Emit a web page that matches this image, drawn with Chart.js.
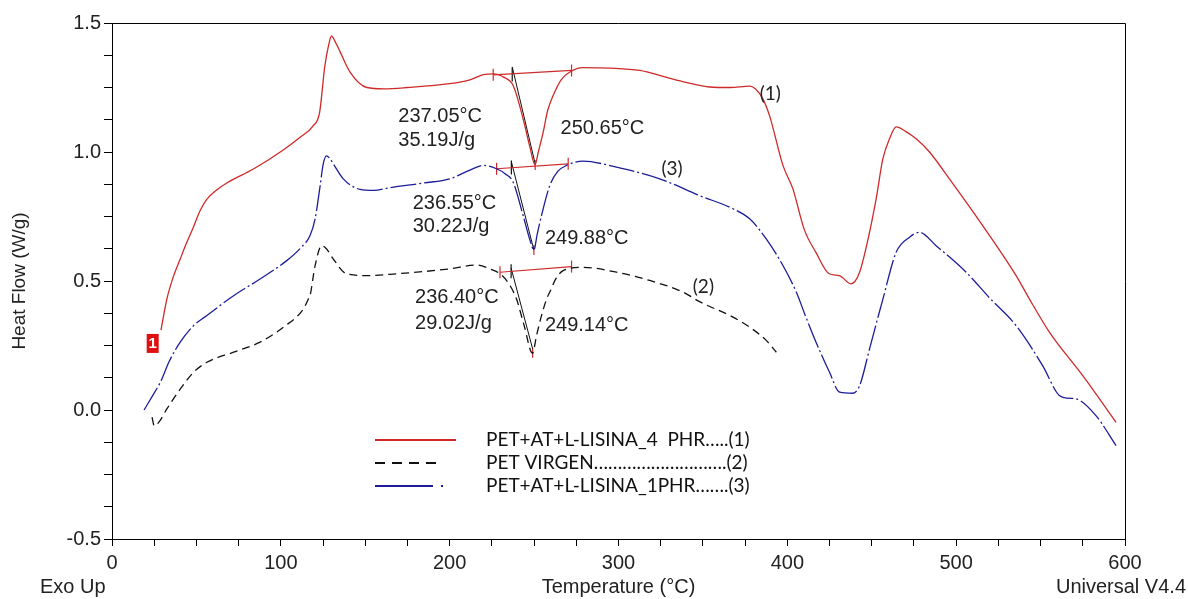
<!DOCTYPE html>
<html>
<head>
<meta charset="utf-8">
<script src="https://cdn.jsdelivr.net/npm/chart.js@4.4.1/dist/chart.umd.min.js"></script>
<style>
  html, body { margin: 0; padding: 0; background: #fff; }
  #wrap { width: 1188px; height: 599px; }
</style>
</head>
<body>
<div id="wrap"><canvas id="dscChart" width="1188" height="599"></canvas></div>
<script>
// (1) PET+AT+L-LISINA_4 PHR
const tempLisina4 = [29, 32.5, 36, 40.4, 44, 48, 52, 56, 62, 68, 84, 101, 112, 119, 123, 126, 128.5, 130, 132, 135, 141, 151, 161, 175, 200, 212, 220, 226, 232, 237.6, 243.5, 247.5, 250.6, 252.5, 255.4, 258, 261.3, 266, 271.2, 279, 295, 312.6, 328, 340, 354, 366, 377.7, 381, 385.5, 389.5, 397.4, 403.3, 410, 417, 424.8, 430.8, 437.7, 442.8, 448.7, 452.6, 456.6, 460.5, 464.5, 470, 476.3, 484.2, 496, 515.7, 535.5, 543.4, 555.3, 575, 594.7];
const flowLisina4 = [0.31, 0.43, 0.51, 0.585, 0.645, 0.705, 0.77, 0.815, 0.853, 0.88, 0.935, 1.006, 1.06, 1.10, 1.155, 1.33, 1.42, 1.45, 1.43, 1.39, 1.31, 1.25, 1.245, 1.25, 1.265, 1.28, 1.30, 1.303, 1.29, 1.258, 1.129, 1.02, 0.95, 1.0, 1.077, 1.16, 1.219, 1.28, 1.31, 1.327, 1.325, 1.316, 1.29, 1.27, 1.252, 1.25, 1.255, 1.245, 1.206, 1.14, 0.948, 0.857, 0.70, 0.61, 0.528, 0.521, 0.489, 0.534, 0.689, 0.818, 0.974, 1.051, 1.097, 1.08, 1.051, 1.0, 0.896, 0.715, 0.521, 0.43, 0.301, 0.133, -0.048];

// (2) PET VIRGEN
const tempVirgen = [23.7, 25, 28, 32.5, 40.4, 48.3, 56.2, 72, 87.7, 101.5, 113.4, 116.3, 117.3, 120.3, 124.2, 127, 131, 138.9, 150.7, 168.5, 200, 216, 223.8, 229.8, 235, 239.6, 244, 249.1, 251.5, 254.4, 257.4, 259.3, 263, 267.2, 279, 298.8, 318.5, 338.2, 348, 367.8, 377.7, 387.5, 393.5];
const flowVirgen = [-0.028, -0.061, -0.045, 0.004, 0.081, 0.146, 0.185, 0.224, 0.263, 0.321, 0.392, 0.43, 0.443, 0.56, 0.637, 0.625, 0.586, 0.528, 0.521, 0.528, 0.547, 0.562, 0.547, 0.528, 0.49, 0.43, 0.33, 0.22, 0.29, 0.366, 0.43, 0.457, 0.51, 0.54, 0.553, 0.534, 0.502, 0.457, 0.42, 0.36, 0.321, 0.27, 0.224];

// (3) PET+AT+L-LISINA_1PHR
const tempLisina1 = [19, 24, 28.6, 34, 40.4, 48.3, 56.2, 63, 72, 87.7, 103.5, 112, 117.3, 120.3, 123.3, 125, 127, 129, 131, 137, 146.9, 155, 165, 185, 200, 212, 220, 227.8, 233, 237.6, 243.5, 247.5, 249.9, 251.8, 254.4, 259.3, 264, 269.2, 279, 298.8, 324.4, 348, 367.8, 377.7, 387.5, 397.4, 405.3, 411, 417, 425, 431, 438.8, 442.8, 448.7, 456.6, 464.5, 472.4, 478.3, 488.1, 505.9, 519.7, 535.5, 551.2, 561.1, 566, 571, 582.8, 594.7];
const flowLisina1 = [0.0, 0.055, 0.107, 0.19, 0.263, 0.327, 0.366, 0.40, 0.443, 0.508, 0.579, 0.63, 0.676, 0.741, 0.87, 0.95, 0.985, 0.975, 0.955, 0.896, 0.855, 0.851, 0.862, 0.88, 0.896, 0.93, 0.948, 0.935, 0.915, 0.883, 0.754, 0.66, 0.62, 0.68, 0.754, 0.87, 0.925, 0.948, 0.965, 0.941, 0.896, 0.831, 0.78, 0.741, 0.663, 0.56, 0.457, 0.36, 0.263, 0.146, 0.069, 0.065, 0.094, 0.237, 0.43, 0.612, 0.67, 0.689, 0.637, 0.534, 0.435, 0.327, 0.172, 0.056, 0.046, 0.043, -0.022, -0.138];

// melting analysis: baselines and onset tangents (1), (3), (2)
const baseX = [[225.8, 272.2], [227.8, 270.2], [229.8, 272.2]];
const baseY = [[1.299, 1.316], [0.935, 0.954], [0.534, 0.556]];
const tanX = [[237.05, 250.65], [236.55, 249.88], [236.40, 249.14]];
const tanY = [[1.33, 0.954], [0.962, 0.62], [0.55, 0.237]];
const onsetY = [1.30, 0.94, 0.538];
const peakY = [0.95, 0.62, 0.222];

const annoText = ['237.05°C', '35.19J/g', '250.65°C', '236.55°C', '30.22J/g', '249.88°C', '236.40°C', '29.02J/g', '249.14°C'];
const annoX = [169.6, 169.6, 265.7, 178.1, 178.1, 256.4, 179.5, 179.5, 256.4];
const annoY = [1.137, 1.045, 1.09, 0.799, 0.71, 0.663, 0.438, 0.334, 0.327];

const curveTags = ['(1)', '(3)', '(2)'];
const tagX = [383.6, 325.4, 344];
const tagY = [1.226, 0.935, 0.477];

const legendLabels = ['PET+AT+L-LISINA_4  PHR…..(1)', 'PET VIRGEN……………………….(2)', 'PET+AT+L-LISINA_1PHR…….(3)'];

const RED = '#cf2a2a';
const BLUE = '#1d1d9a';
const BLACK = '#111111';
const AXIS_FONT = '"Liberation Sans", Arial, sans-serif';

function pts(xs, ys) { return xs.map((v, i) => ({ x: v, y: ys[i] })); }

const datasets = [
    { label: legendLabels[0], data: pts(tempLisina4, flowLisina4), borderColor: RED, borderWidth: 1.3, showLine: true, pointRadius: 0, cubicInterpolationMode: 'monotone' },
    { label: legendLabels[1], data: pts(tempVirgen, flowVirgen), borderColor: BLACK, borderWidth: 1.3, borderDash: [8, 5], showLine: true, pointRadius: 0, cubicInterpolationMode: 'monotone' },
    { label: legendLabels[2], data: pts(tempLisina1, flowLisina1), borderColor: BLUE, borderWidth: 1.3, borderDash: [26, 3, 2, 3], showLine: true, pointRadius: 0, cubicInterpolationMode: 'monotone' }
];

for (let i = 0; i < 3; i++) {
    datasets.push({ data: pts(baseX[i], baseY[i]), borderColor: RED, borderWidth: 1.2, showLine: true,
        pointStyle: 'line', rotation: 90, pointRadius: 6, pointBorderColor: RED, pointBorderWidth: 1.2 });
    datasets.push({ data: pts(tanX[i], tanY[i]), borderColor: BLACK, borderWidth: 1, showLine: true, pointRadius: 0 });
    datasets.push({ data: [{ x: tanX[i][0], y: onsetY[i] }], pointStyle: 'line', rotation: 90, pointRadius: 7,
        pointBorderColor: BLACK, pointBorderWidth: 1.2, showLine: false });
    datasets.push({ data: [{ x: tanX[i][1], y: peakY[i] }], pointStyle: 'line', rotation: 90, pointRadius: 5,
        pointBorderColor: RED, pointBorderWidth: 1.2, showLine: false });
}

const extras = {
    id: 'dscExtras',
    afterDraw(chart) {
        const { ctx, chartArea: a, scales: { x, y } } = chart;
        ctx.save();
        ctx.strokeStyle = '#000';
        ctx.lineWidth = 1;
        ctx.beginPath();
        ctx.moveTo(a.left, a.top + 0.5);
        ctx.lineTo(a.right + 0.5, a.top + 0.5);
        ctx.lineTo(a.right + 0.5, a.bottom);
        ctx.stroke();

        ctx.fillStyle = '#222';
        ctx.textBaseline = 'middle';
        ctx.textAlign = 'left';
        ctx.font = '20px ' + AXIS_FONT;
        annoText.forEach((t, i) => ctx.fillText(t, x.getPixelForValue(annoX[i]), y.getPixelForValue(annoY[i])));

        ctx.font = '19px Lato, "Open Sans", sans-serif';
        curveTags.forEach((t, i) => ctx.fillText(t, x.getPixelForValue(tagX[i]), y.getPixelForValue(tagY[i])));

        // start marker of run 1
        const mx = x.getPixelForValue(24.1), my = y.getPixelForValue(0.26);
        ctx.fillStyle = '#e01010';
        ctx.fillRect(mx - 6, my - 9, 12, 19);
        ctx.fillStyle = '#fff';
        ctx.textAlign = 'center';
        ctx.font = 'bold 15px ' + AXIS_FONT;
        ctx.fillText('1', mx, my + 1);

        // legend
        const lx0 = a.left + 263, lx1 = a.left + 344, tx = a.left + 374;
        const rows = [a.top + 417, a.top + 440, a.top + 463];
        const styles = [[RED, []], [BLACK, [10, 7]], [BLUE, [58, 8, 2, 100]]];
        ctx.textAlign = 'left';
        ctx.font = '19px Lato, "Open Sans", sans-serif';
        rows.forEach((ry, i) => {
            ctx.strokeStyle = styles[i][0];
            ctx.lineWidth = 2;
            ctx.setLineDash(styles[i][1]);
            ctx.beginPath();
            ctx.moveTo(lx0, ry);
            ctx.lineTo(i === 1 ? lx1 - 18 : lx1, ry);
            ctx.stroke();
            ctx.fillStyle = '#111';
            ctx.fillText(legendLabels[i], tx, ry);
        });
        ctx.setLineDash([]);

        ctx.fillStyle = '#222';
        ctx.font = '20px ' + AXIS_FONT;
        ctx.fillText('Exo Up', 40, 587);
        ctx.textAlign = 'right';
        ctx.fillText('Universal V4.4', 1186, 587);
        ctx.restore();
    }
};

new Chart(document.getElementById('dscChart').getContext('2d'), {
    type: 'scatter',
    data: { datasets },
    options: {
        responsive: false,
        animation: false,
        layout: { padding: { top: 23, right: 63, left: 0, bottom: 0 } },
        plugins: { legend: { display: false }, tooltip: { enabled: false } },
        scales: {
            x: {
                type: 'linear', min: 0, max: 600,
                afterFit: (s) => { s.height = 60; },
                border: { display: true, color: '#000', width: 1 },
                grid: { drawOnChartArea: false, drawTicks: true, tickLength: 7, color: '#000' },
                ticks: { stepSize: 25, autoSkip: false, maxRotation: 0, padding: 5, color: '#222',
                    font: { family: AXIS_FONT, size: 20 },
                    callback: (v) => (v % 100 === 0 ? String(v) : '') },
                title: { display: true, text: 'Temperature (°C)', color: '#222', padding: 0,
                    font: { family: AXIS_FONT, size: 20 } }
            },
            y: {
                min: -0.5, max: 1.5,
                afterFit: (s) => { s.width = 112; },
                border: { display: true, color: '#000', width: 1 },
                grid: { drawOnChartArea: false, drawTicks: true, tickLength: 8, color: '#000' },
                ticks: { stepSize: 0.125, autoSkip: false, padding: 3, color: '#222',
                    font: { family: AXIS_FONT, size: 20 },
                    callback: (v) => (Math.abs(v * 2 - Math.round(v * 2)) < 1e-6 ? v.toFixed(1) : '') },
                title: { display: true, text: 'Heat Flow (W/g)', color: '#222', padding: { top: 8, bottom: 0 },
                    font: { family: AXIS_FONT, size: 19 } }
            }
        }
    },
    plugins: [extras]
});
</script>
</body>
</html>
